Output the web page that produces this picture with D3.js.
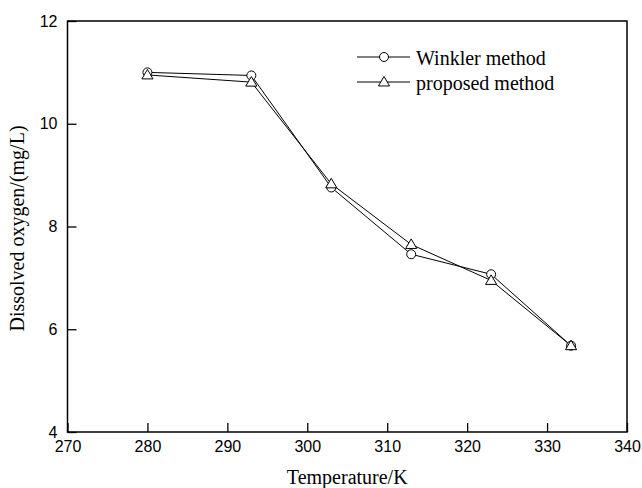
<!DOCTYPE html>
<html><head><meta charset="utf-8">
<script src="https://cdn.jsdelivr.net/npm/d3@7"></script>
<style>body{margin:0;background:#fff}</style>
</head><body>
<svg id="c" width="642" height="488"></svg>
<script>
const temps = [280, 293, 303, 313, 323, 333];
const winkler = [11.0, 10.94, 8.76, 7.46, 7.07, 5.68];
const proposed = [10.95, 10.81, 8.83, 7.65, 6.95, 5.68];
const xTicks = [270, 280, 290, 300, 310, 320, 330, 340];
const yTicks = [4, 6, 8, 10, 12];
const seriesNames = ["Winkler method", "proposed method"];

const svg = d3.select("#c");
const L = 67.5, R = 627, T = 21, B = 432;
const x = d3.scaleLinear().domain([270, 340]).range([L, R]);
const y = d3.scaleLinear().domain([4, 12]).range([B, T]);

svg.append("rect").attr("x", L).attr("y", T).attr("width", R - L).attr("height", B - T)
  .attr("fill", "none").attr("stroke", "#000").attr("stroke-width", 1.5);

const xa = svg.append("g").attr("transform", `translate(0,${B})`)
  .call(d3.axisBottom(x).tickValues(xTicks).tickSize(-9).tickPadding(9).tickFormat(d3.format("d")));
const ya = svg.append("g").attr("transform", `translate(${L},0)`)
  .call(d3.axisLeft(y).tickValues(yTicks).tickSize(-9).tickPadding(10).tickFormat(d3.format("d")));
[xa, ya].forEach(g => {
  g.select(".domain").remove();
  g.selectAll("line").attr("stroke", "#000").attr("stroke-width", 1.3);
  g.selectAll("text").attr("font-family", "Liberation Sans, Arial, sans-serif").attr("font-size", 16).attr("fill", "#000");
});

svg.append("text").attr("x", (L + R) / 2).attr("y", 484).attr("text-anchor", "middle")
  .attr("font-family", "Liberation Serif, Times New Roman, serif").attr("font-size", 20).text("Temperature/K");
svg.append("text").attr("transform", `translate(24,${(T + B) / 2 + 2}) rotate(-90)`).attr("text-anchor", "middle")
  .attr("font-family", "Liberation Serif, Times New Roman, serif").attr("font-size", 20).text("Dissolved oxygen/(mg/L)");

const line = d3.line().x(d => x(d[0])).y(d => y(d[1]));
const tri = (cx, cy, s) => `M${cx},${cy - s * 1.05}L${cx + s * 1.05},${cy + s * 0.75}L${cx - s * 1.05},${cy + s * 0.75}Z`;

const wData = temps.map((t, i) => [t, winkler[i]]);
const pData = temps.map((t, i) => [t, proposed[i]]);

svg.append("path").attr("d", line(wData)).attr("fill", "none").attr("stroke", "#000").attr("stroke-width", 1);
svg.append("path").attr("d", line(pData)).attr("fill", "none").attr("stroke", "#000").attr("stroke-width", 1);

svg.selectAll(".w").data(wData).enter().append("circle")
  .attr("cx", d => x(d[0])).attr("cy", d => y(d[1])).attr("r", 4.5)
  .attr("fill", "#fff").attr("stroke", "#000").attr("stroke-width", 1);
svg.selectAll(".p").data(pData).enter().append("path")
  .attr("d", d => tri(x(d[0]), y(d[1]), 5.3))
  .attr("fill", "#fff").attr("stroke", "#000").attr("stroke-width", 1);

const lg = svg.append("g");
const ly = [57, 82];
seriesNames.forEach((n, i) => {
  lg.append("line").attr("x1", 357).attr("x2", 410).attr("y1", ly[i]).attr("y2", ly[i]).attr("stroke", "#000").attr("stroke-width", 1);
  if (i === 0) lg.append("circle").attr("cx", 384).attr("cy", ly[i]).attr("r", 4.5).attr("fill", "#fff").attr("stroke", "#000");
  else lg.append("path").attr("d", tri(384, ly[i], 5.3)).attr("fill", "#fff").attr("stroke", "#000");
  lg.append("text").attr("x", 416).attr("y", ly[i] + 7.5).attr("font-family", "Liberation Serif, Times New Roman, serif")
    .attr("font-size", 20).text(n);
});
</script>
</body></html>
